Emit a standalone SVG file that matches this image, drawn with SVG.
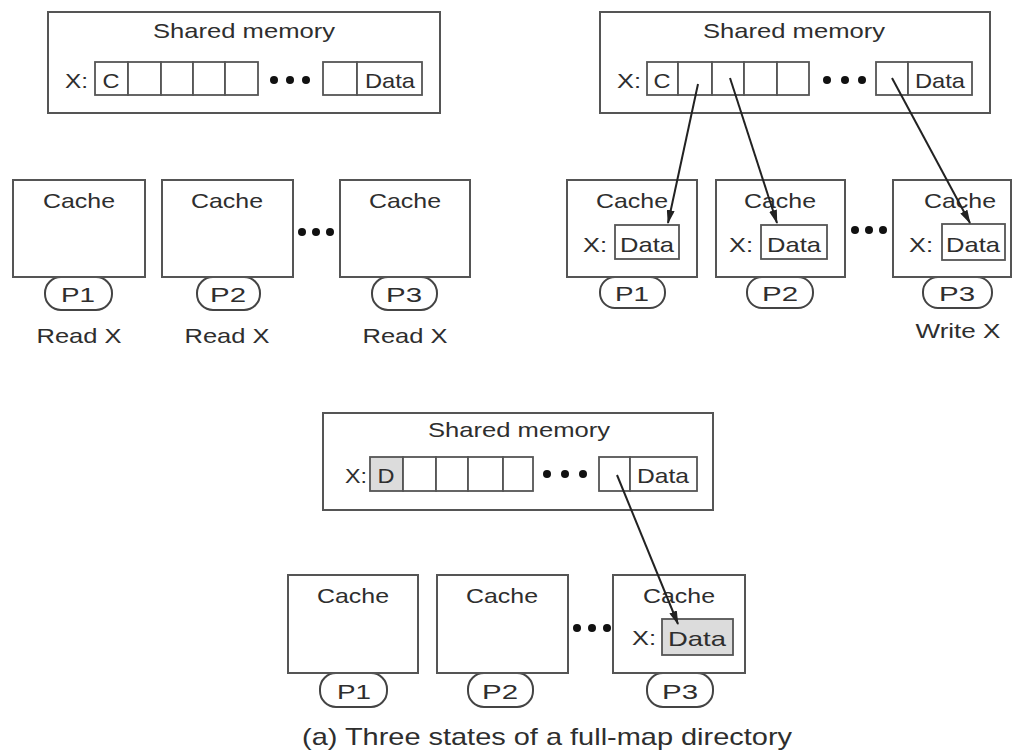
<svg xmlns="http://www.w3.org/2000/svg" width="1013" height="750" viewBox="0 0 1013 750">
<style>
.box{fill:#fff;stroke:#555;stroke-width:2}
.cell{fill:#fff;stroke:#555;stroke-width:1.8}
.shade{fill:#dcdcdc;stroke:#555;stroke-width:1.8}
.pill{fill:#fff;stroke:#444;stroke-width:2}
.t{font-family:"Liberation Sans",Arial,sans-serif;fill:#2e2e2e;font-size:21px}
.c{text-anchor:middle}
.dot{fill:#111}
.arr{stroke:#222;stroke-width:2;fill:none;marker-end:url(#ah)}
</style>
<defs>
<marker id="ah" viewBox="0 0 14 8" refX="13" refY="4" markerWidth="14" markerHeight="8" markerUnits="userSpaceOnUse" orient="auto">
<path d="M0,0 L14,4 L0,8 Z" fill="#222"/>
</marker>
</defs>
<rect width="1013" height="750" fill="#fff"/>

<!-- Panel 1 -->
<g id="mem1">
<rect class="box" x="48" y="12" width="392" height="101"/>
<text class="t c" x="244" y="38" textLength="182" lengthAdjust="spacingAndGlyphs">Shared memory</text>
<text class="t" x="65" y="88" textLength="23" lengthAdjust="spacingAndGlyphs">X:</text>
<rect class="cell" x="95" y="62" width="33" height="33"/>
<rect class="cell" x="128" y="62" width="33" height="33"/>
<rect class="cell" x="161" y="62" width="32" height="33"/>
<rect class="cell" x="193" y="62" width="32" height="33"/>
<rect class="cell" x="225" y="62" width="33" height="33"/>
<text class="t c" x="111" y="88" textLength="17" lengthAdjust="spacingAndGlyphs">C</text>
<circle class="dot" cx="274" cy="80" r="4"/><circle class="dot" cx="290" cy="80" r="4"/><circle class="dot" cx="306" cy="80" r="4"/>
<rect class="cell" x="323" y="62" width="34" height="33"/>
<rect class="cell" x="357" y="62" width="65" height="33"/>
<text class="t c" x="390" y="88" textLength="50" lengthAdjust="spacingAndGlyphs">Data</text>
</g>
<g id="p1c1">
<rect class="pill" x="45" y="277" width="67" height="33" rx="16"/>
<rect class="box" x="13" y="180" width="132" height="97"/>
<text class="t c" x="79" y="208" textLength="72" lengthAdjust="spacingAndGlyphs">Cache</text>
<text class="t c" x="78" y="302" textLength="34" lengthAdjust="spacingAndGlyphs">P1</text>
<text class="t c" x="79" y="343" textLength="85" lengthAdjust="spacingAndGlyphs">Read X</text>
</g>
<g id="p1c2">
<rect class="pill" x="197" y="277" width="63" height="33" rx="16"/>
<rect class="box" x="162" y="180" width="131" height="97"/>
<text class="t c" x="227" y="208" textLength="72" lengthAdjust="spacingAndGlyphs">Cache</text>
<text class="t c" x="228" y="302" textLength="36" lengthAdjust="spacingAndGlyphs">P2</text>
<text class="t c" x="227" y="343" textLength="85" lengthAdjust="spacingAndGlyphs">Read X</text>
</g>
<g id="p1c3">
<rect class="pill" x="372" y="277" width="65" height="33" rx="16"/>
<rect class="box" x="340" y="180" width="130" height="97"/>
<text class="t c" x="405" y="208" textLength="72" lengthAdjust="spacingAndGlyphs">Cache</text>
<text class="t c" x="404" y="302" textLength="36" lengthAdjust="spacingAndGlyphs">P3</text>
<text class="t c" x="405" y="343" textLength="85" lengthAdjust="spacingAndGlyphs">Read X</text>
</g>
<g id="p1dots"><circle class="dot" cx="302" cy="232" r="4"/><circle class="dot" cx="316" cy="232" r="4"/><circle class="dot" cx="330" cy="232" r="4"/></g>

<!-- Panel 2 -->
<g id="mem2">
<rect class="box" x="600" y="12" width="390" height="101"/>
<text class="t c" x="794" y="38" textLength="182" lengthAdjust="spacingAndGlyphs">Shared memory</text>
<text class="t" x="617" y="88" textLength="24" lengthAdjust="spacingAndGlyphs">X:</text>
<rect class="cell" x="647" y="62" width="31" height="33"/>
<rect class="cell" x="678" y="62" width="34" height="33"/>
<rect class="cell" x="712" y="62" width="32" height="33"/>
<rect class="cell" x="744" y="62" width="33" height="33"/>
<rect class="cell" x="777" y="62" width="32" height="33"/>
<text class="t c" x="662" y="88" textLength="17" lengthAdjust="spacingAndGlyphs">C</text>
<circle class="dot" cx="827" cy="80" r="4"/><circle class="dot" cx="845" cy="80" r="4"/><circle class="dot" cx="862" cy="80" r="4"/>
<rect class="cell" x="876" y="62" width="32" height="33"/>
<rect class="cell" x="908" y="62" width="64" height="33"/>
<text class="t c" x="940" y="88" textLength="50" lengthAdjust="spacingAndGlyphs">Data</text>
</g>
<g id="p2c1">
<rect class="pill" x="600" y="277" width="65" height="31" rx="15"/>
<rect class="box" x="567" y="180" width="130" height="97"/>
<text class="t c" x="632" y="208" textLength="72" lengthAdjust="spacingAndGlyphs">Cache</text>
<text class="t" x="583" y="252" textLength="24" lengthAdjust="spacingAndGlyphs">X:</text>
<rect class="cell" x="615" y="225" width="64" height="34"/>
<text class="t c" x="647" y="252" textLength="54" lengthAdjust="spacingAndGlyphs">Data</text>
<text class="t c" x="632" y="301" textLength="34" lengthAdjust="spacingAndGlyphs">P1</text>
</g>
<g id="p2c2">
<rect class="pill" x="747" y="277" width="66" height="31" rx="15"/>
<rect class="box" x="716" y="180" width="129" height="97"/>
<text class="t c" x="780" y="208" textLength="72" lengthAdjust="spacingAndGlyphs">Cache</text>
<text class="t" x="729" y="252" textLength="24" lengthAdjust="spacingAndGlyphs">X:</text>
<rect class="cell" x="761" y="225" width="66" height="34"/>
<text class="t c" x="794" y="252" textLength="54" lengthAdjust="spacingAndGlyphs">Data</text>
<text class="t c" x="780" y="301" textLength="36" lengthAdjust="spacingAndGlyphs">P2</text>
</g>
<g id="p2c3">
<rect class="pill" x="923" y="277" width="69" height="31" rx="15"/>
<rect class="box" x="893" y="180" width="118" height="97"/>
<text class="t c" x="960" y="208" textLength="72" lengthAdjust="spacingAndGlyphs">Cache</text>
<text class="t" x="909" y="252" textLength="24" lengthAdjust="spacingAndGlyphs">X:</text>
<rect class="cell" x="942" y="224" width="63" height="36"/>
<text class="t c" x="973" y="252" textLength="54" lengthAdjust="spacingAndGlyphs">Data</text>
<text class="t c" x="957" y="301" textLength="36" lengthAdjust="spacingAndGlyphs">P3</text>
<text class="t c" x="958" y="338" textLength="85" lengthAdjust="spacingAndGlyphs">Write X</text>
</g>
<g id="p2dots"><circle class="dot" cx="855" cy="230" r="4"/><circle class="dot" cx="869" cy="230" r="4"/><circle class="dot" cx="883" cy="230" r="4"/></g>

<!-- Panel 3 -->
<g id="mem3">
<rect class="box" x="323" y="413" width="390" height="97"/>
<text class="t c" x="519" y="437" textLength="182" lengthAdjust="spacingAndGlyphs">Shared memory</text>
<text class="t" x="345" y="483" textLength="22" lengthAdjust="spacingAndGlyphs">X:</text>
<rect class="shade" x="370" y="457" width="33" height="34"/>
<rect class="cell" x="403" y="457" width="33" height="34"/>
<rect class="cell" x="436" y="457" width="32" height="34"/>
<rect class="cell" x="468" y="457" width="35" height="34"/>
<rect class="cell" x="503" y="457" width="30" height="34"/>
<text class="t c" x="386" y="483" textLength="17" lengthAdjust="spacingAndGlyphs">D</text>
<circle class="dot" cx="547" cy="474" r="4"/><circle class="dot" cx="565" cy="474" r="4"/><circle class="dot" cx="583" cy="474" r="4"/>
<rect class="cell" x="599" y="457" width="31" height="34"/>
<rect class="cell" x="630" y="457" width="67" height="34"/>
<text class="t c" x="663" y="483" textLength="52" lengthAdjust="spacingAndGlyphs">Data</text>
</g>
<g id="p3c1">
<rect class="pill" x="320" y="673" width="67" height="34" rx="16"/>
<rect class="box" x="288" y="575" width="130" height="98"/>
<text class="t c" x="353" y="603" textLength="72" lengthAdjust="spacingAndGlyphs">Cache</text>
<text class="t c" x="354" y="699" textLength="34" lengthAdjust="spacingAndGlyphs">P1</text>
</g>
<g id="p3c2">
<rect class="pill" x="468" y="673" width="65" height="34" rx="16"/>
<rect class="box" x="437" y="575" width="131" height="98"/>
<text class="t c" x="502" y="603" textLength="72" lengthAdjust="spacingAndGlyphs">Cache</text>
<text class="t c" x="500" y="699" textLength="36" lengthAdjust="spacingAndGlyphs">P2</text>
</g>
<g id="p3c3">
<rect class="pill" x="647" y="673" width="66" height="34" rx="16"/>
<rect class="box" x="613" y="575" width="132" height="98"/>
<text class="t c" x="679" y="603" textLength="72" lengthAdjust="spacingAndGlyphs">Cache</text>
<text class="t" x="632" y="645" textLength="24" lengthAdjust="spacingAndGlyphs">X:</text>
<rect class="shade" x="662" y="619" width="71" height="36"/>
<text class="t c" x="697" y="646" textLength="58" lengthAdjust="spacingAndGlyphs">Data</text>
<text class="t c" x="680" y="699" textLength="36" lengthAdjust="spacingAndGlyphs">P3</text>
</g>
<g id="p3dots"><circle class="dot" cx="577" cy="628" r="4"/><circle class="dot" cx="592" cy="628" r="4"/><circle class="dot" cx="607" cy="628" r="4"/></g>

<g id="connectors">
<line class="arr" x1="698" y1="84" x2="668" y2="223"/>
<line class="arr" x1="730" y1="78" x2="777" y2="223"/>
<line class="arr" x1="892" y1="78" x2="970" y2="223"/>
<line class="arr" x1="617" y1="475" x2="678" y2="624"/>
</g>

<text class="t c" x="547" y="745" style="font-size:24px" textLength="490" lengthAdjust="spacingAndGlyphs">(a) Three states of a full-map directory</text>
</svg>
